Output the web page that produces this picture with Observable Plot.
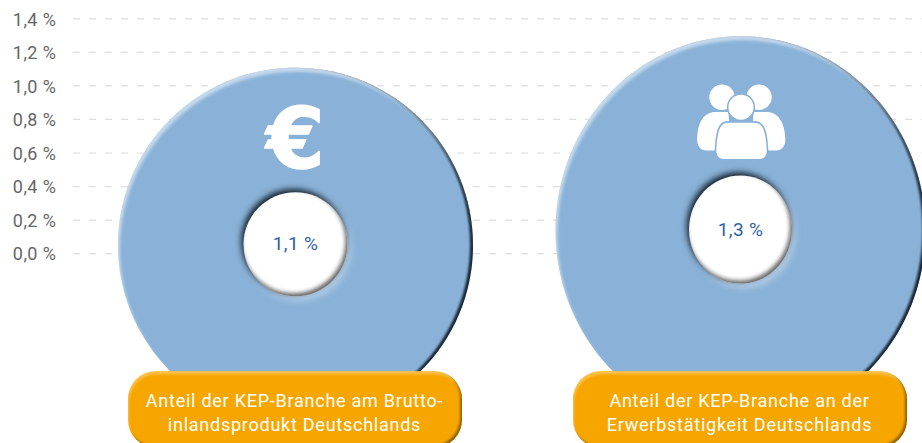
<!DOCTYPE html>
<html><head><meta charset="utf-8">
<script src="https://cdn.jsdelivr.net/npm/d3@7"></script>
<script src="https://cdn.jsdelivr.net/npm/@observablehq/plot@0.6"></script>
<style>
html,body{margin:0;padding:0;background:#fff;overflow:hidden}
svg{display:block;overflow:hidden}
</style></head><body>
<div id="chart"></div>
<script>
const categories = ["BIP", "Erwerbstätigkeit"];
const values = [1.1, 1.3];
const valueLabels = ["1,1 %", "1,3 %"];
const captions = ["Anteil der KEP-Branche am Brutto-\ninlandsprodukt Deutschlands", "Anteil der KEP-Branche an der\nErwerbstätigkeit Deutschlands"];
const tickValues = [0, 0.2, 0.4, 0.6, 0.8, 1.0, 1.2, 1.4];
const tickLabels = ["0,0 %", "0,2 %", "0,4 %", "0,6 %", "0,8 %", "1,0 %", "1,2 %", "1,4 %"];

const BLUE = "#8ab2d8", ORANGE = "#f7a600";
const pxPerUnit = 167.9;
const outerR = [177.5, 185], stretch = [1, 1.05], holeR = [52, 51.5], topNudge = [0.008, -0.005];

const ellipse = s => ({draw(c, size) {
  const rx = Math.sqrt(size / Math.PI), ry = rx * s, k = 0.5523;
  c.moveTo(rx, 0);
  c.bezierCurveTo(rx, k * ry, k * rx, ry, 0, ry);
  c.bezierCurveTo(-k * rx, ry, -rx, k * ry, -rx, 0);
  c.bezierCurveTo(-rx, -k * ry, -k * rx, -ry, 0, -ry);
  c.bezierCurveTo(k * rx, -ry, rx, -k * ry, rx, 0);
  c.closePath();
}});
const backPeople = {draw(c) {
  c.moveTo(31, -34); c.arc(18.5, -34, 12.7, 0, 2 * Math.PI); c.closePath();
  c.moveTo(-5.9, -34); c.arc(-18.5, -34, 12.7, 0, 2 * Math.PI); c.closePath();
  c.moveTo(-12, -19.3); c.lineTo(-25, -19.3);
  c.bezierCurveTo(-36, -19.3, -43, -10, -43.3, 8);
  c.bezierCurveTo(-43.5, 15, -40, 19.3, -34, 19.3);
  c.lineTo(-10, 19.3); c.closePath();
  c.moveTo(13, -19.3); c.lineTo(26, -19.3);
  c.bezierCurveTo(37, -19.3, 44.5, -10, 44.8, 8);
  c.bezierCurveTo(45, 15, 41.5, 19.3, 35.5, 19.3);
  c.lineTo(11, 19.3); c.closePath();
}};
const frontHead = {draw(c) { c.moveTo(13.8, -24); c.arc(0.5, -24, 13.3, 0, 2 * Math.PI); c.closePath(); }};
const frontBody = {draw(c) {
  c.moveTo(-13, -9.3); c.lineTo(14, -9.3);
  c.bezierCurveTo(23, -9.3, 26, -1, 27, 18);
  c.bezierCurveTo(27.5, 25, 24, 28.7, 18, 28.7);
  c.lineTo(-16, 28.7);
  c.bezierCurveTo(-22, 28.7, -25.5, 25, -25, 18);
  c.bezierCurveTo(-24, -1, -21, -9.3, -13, -9.3);
  c.closePath();
}};

const rows = categories.map((category, i) => ({category, value: values[i], label: valueLabels[i], caption: captions[i], i}));
const centreY = d => d.value + topNudge[d.i] - outerR[d.i] * stretch[d.i] / pxPerUnit;
const font = "Roboto, sans-serif";

const donut = d => [
  Plot.dot([d], {x: "category", y: centreY, r: outerR[d.i], symbol: ellipse(stretch[d.i]), fill: BLUE, stroke: "none", imageFilter: "url(#discBevel)"}),
  Plot.dot([d], {x: "category", y: centreY, dy: -1, r: holeR[d.i], symbol: ellipse(stretch[d.i]), fill: "#fff", stroke: "none", imageFilter: "url(#holeBevel)"})
];

const plot = Plot.plot({
  width: 922, height: 443,
  marginLeft: 73, marginRight: 0, marginTop: 18, marginBottom: 0,
  style: {fontFamily: font, background: "#fff"},
  x: {type: "band", domain: categories, range: [72.5, 962.5], paddingInner: 0.25, paddingOuter: 0.125, axis: null},
  y: {domain: [-1.16, 1.4], range: [447.8, 18.3], axis: null},
  marks: [
    Plot.ruleY(tickValues, {stroke: "#dedede", strokeWidth: 1.2, strokeDasharray: "7 9"}),
    Plot.axisY({ticks: tickValues, tickFormat: d => tickLabels[tickValues.indexOf(d)], tickSize: 0, tickPadding: 17, label: null, fontSize: 18, fill: "#666", dy: 1, className: "spaced-ticks"}),
    ...rows.flatMap(donut),
    Plot.text([rows[0]], {x: "category", y: () => 0.685, dy: 2, text: () => "€", fontSize: 84, fontWeight: 700, fill: "#fff", stroke: "#fff", strokeWidth: 1.5, fontFamily: "DejaVu Sans, sans-serif"}),
    Plot.dot([rows[1]], {x: "category", y: () => 0.73, r: 1, symbol: backPeople, fill: "#fff", stroke: "none"}),
    Plot.dot([rows[1]], {x: "category", y: () => 0.73, r: 1, symbol: frontHead, fill: "#fff", stroke: BLUE, strokeWidth: 1.6}),
    Plot.dot([rows[1]], {x: "category", y: () => 0.73, r: 1, symbol: frontBody, fill: "#fff", stroke: BLUE, strokeWidth: 1.6}),
    Plot.text(rows, {x: "category", y: centreY, text: "label", fontSize: 19, fill: "#2f5fa5", dy: -1, className: "spaced-value"}),
    Plot.barY(rows, {x: "category", y1: () => -0.703, y2: () => -1.16, fill: ORANGE, rx: 28, imageFilter: "url(#pillBevel)"}),
    Plot.text(rows, {x: "category", y: () => -0.941, text: "caption", fontSize: 18, lineHeight: 1.33, fill: "#fff", dx: -1, className: "spaced-caption"})
  ]
});

const inner = (id, color, op, dx, dy, blur) => `
  <feComponentTransfer in="SourceAlpha" result="inv${id}"><feFuncA type="table" tableValues="1 0"/></feComponentTransfer>
  <feOffset in="inv${id}" dx="${dx}" dy="${dy}" result="off${id}"/>
  <feGaussianBlur in="off${id}" stdDeviation="${blur}" result="blur${id}"/>
  <feFlood flood-color="${color}" flood-opacity="${op}"/>
  <feComposite in2="blur${id}" operator="in" result="col${id}"/>
  <feComposite in="col${id}" in2="SourceAlpha" operator="in" result="${id}"/>`;
const outer = (id, color, op, dx, dy, blur) => `
  <feOffset in="SourceAlpha" dx="${dx}" dy="${dy}" result="off${id}"/>
  <feGaussianBlur in="off${id}" stdDeviation="${blur}" result="blur${id}"/>
  <feFlood flood-color="${color}" flood-opacity="${op}"/>
  <feComposite in2="blur${id}" operator="in" result="${id}"/>`;
const merge = (...names) => `<feMerge>${names.map(n => `<feMergeNode in="${n}"/>`).join("")}</feMerge>`;
const filter = (id, body) => `<filter id="${id}" x="-15%" y="-15%" width="130%" height="130%" color-interpolation-filters="sRGB">${body}</filter>`;
plot.insertAdjacentHTML("afterbegin", `<style>
.spaced-ticks{letter-spacing:.45px}
.spaced-value{letter-spacing:.35px}
.spaced-caption{letter-spacing:.75px}
</style><defs>
${filter("discBevel", inner("d", "#14202c", 0.95, -3, -1.4, 1) + inner("l", "#ffffff", 0.5, 1.5, 4, 1.8) + merge("SourceGraphic", "d", "l"))}
${filter("holeBevel", outer("h", "#c3d7ea", 0.8, 3, 4, 3.5) + outer("s", "#0e1a26", 1, -2, -3, 3) + inner("g", "#555555", 0.9, -2, -3.5, 2) + merge("h", "s", "SourceGraphic", "g"))}
${filter("pillBevel", inner("l", "#ffd27a", 0.6, 0.5, 2.5, 1.2) + inner("d", "#7a5200", 0.8, -2.5, -2, 1.3) + merge("SourceGraphic", "l", "d"))}
</defs>`);
document.getElementById("chart").append(plot);
</script>
</body></html>
